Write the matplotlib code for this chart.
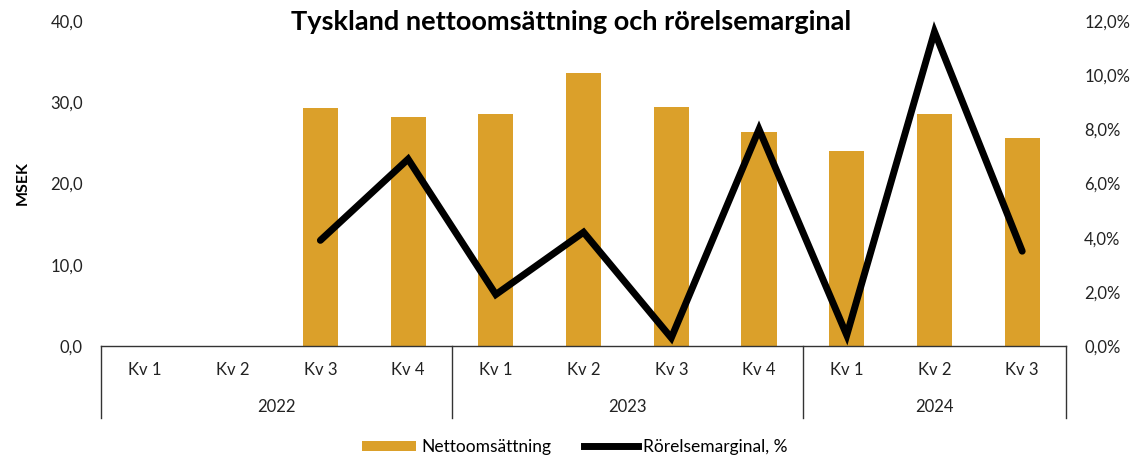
import numpy as np
import matplotlib.pyplot as plt
import matplotlib.transforms as mtransforms
from matplotlib.lines import Line2D
from matplotlib.patches import Patch

plt.rcParams['font.family'] = ['Lato', 'DejaVu Sans']

quarters = ['Kv 1', 'Kv 2', 'Kv 3', 'Kv 4', 'Kv 1', 'Kv 2', 'Kv 3', 'Kv 4', 'Kv 1', 'Kv 2', 'Kv 3']
years = ['2022', '2023', '2024']
year_sizes = [4, 4, 3]
nettoomsattning = [np.nan, np.nan, 29.3, 28.2, 28.5, 33.6, 29.4, 26.3, 24.0, 28.5, 25.6]
marginal = [np.nan, np.nan, 3.9, 6.9, 1.9, 4.2, 0.3, 8.0, 0.4, 11.6, 3.5]

bar_color = '#DBA02A'

fig = plt.figure(figsize=(11.34, 4.57), dpi=100)
ax = fig.add_axes([0.0891, 0.2429, 0.8510, 0.7112])
ax2 = ax.twinx()

x = np.arange(len(quarters))
ax.bar(x, nettoomsattning, width=0.4, color=bar_color, zorder=2)
ax2.plot(x, marginal, color='black', lw=5, solid_capstyle='round', solid_joinstyle='miter', zorder=3)

ax.set_xlim(-0.5, len(quarters) - 0.5)
ax.set_ylim(0, 40)
ax2.set_ylim(0, 12)
ax.set_yticks(np.arange(0, 41, 10))
ax.set_yticklabels([f'{v:.1f}'.replace('.', ',') for v in np.arange(0, 41, 10)])
ax2.set_yticks(np.arange(0, 12.1, 2))
ax2.set_yticklabels([f'{v:.1f}%'.replace('.', ',') for v in np.arange(0, 12.1, 2)])

for a in (ax, ax2):
    for s in ('top', 'left', 'right'):
        a.spines[s].set_visible(False)
    a.tick_params(axis='y', length=0, labelsize=12, colors='#222222', pad=13)
ax.spines['bottom'].set_visible(False)
ax2.spines['bottom'].set_color('#333333')
ax2.spines['bottom'].set_linewidth(1)
ax.set_xticks([])

trans = mtransforms.blended_transform_factory(ax.transData, ax.transAxes)
for i, q in enumerate(quarters):
    ax.text(i, -0.074, q, transform=trans, ha='center', va='center', fontsize=12, color='#222222')

start = 0
bounds = [-0.5]
for y, n in zip(years, year_sizes):
    ax.text(start + (n - 1) / 2, -0.188, y, transform=trans, ha='center', va='center', fontsize=12, color='#222222')
    start += n
    bounds.append(start - 0.5)
for b in bounds:
    ax.plot([b, b], [0, -0.2215], transform=trans, color='#333333', lw=1, clip_on=False)

ax.set_ylabel('MSEK', fontsize=11.5, fontweight='bold')
ax.yaxis.set_label_coords(-0.074, 0.5)

fig.text(0.504, 0.952, 'Tyskland nettoomsättning och rörelsemarginal', ha='center', va='center',
         fontsize=19.5, fontweight='bold')

handles = [Patch(facecolor=bar_color), Line2D([0], [0], color='black', lw=5)]
fig.legend(handles, ['Nettoomsättning', 'Rörelsemarginal, %'], loc='center', bbox_to_anchor=(0.507, 0.022),
           ncol=2, frameon=False, fontsize=12.5, handlelength=3.1, handleheight=0.55,
           columnspacing=1.9, handletextpad=0.3)

fig.savefig('out.png', dpi=100)
